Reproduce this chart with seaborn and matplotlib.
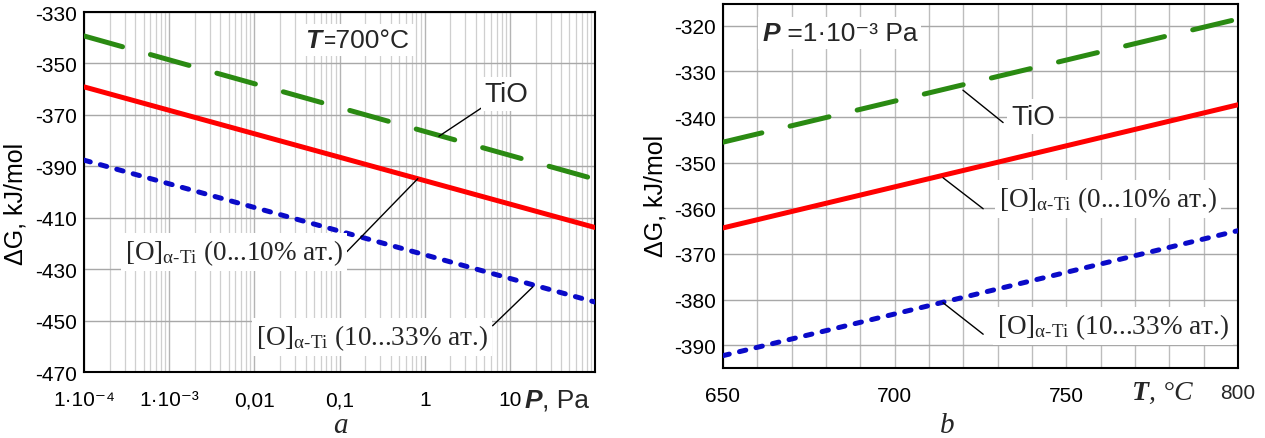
import numpy as np
import pandas as pd
import matplotlib
matplotlib.use("Agg")
import matplotlib.pyplot as plt
import seaborn as sns
from matplotlib.ticker import FixedLocator, LogLocator, MultipleLocator, NullFormatter

# -----------------------------
# data
# -----------------------------
# a) dG vs pressure at T = 700 C
P_pa = [1e-4, 100]
dG_TiO_P = [-339.3, -395.0]
dG_O1_P = [-359.1, -413.8]
dG_O2_P = [-387.6, -442.8]

# b) dG vs temperature at P = 1e-3 Pa
T_c = [650, 800]
dG_TiO_T = [-345.5, -318.5]
dG_O1_T = [-364.3, -337.3]
dG_O2_T = [-392.3, -364.9]

phases = ["TiO", "O1", "O2"]
p_ticks = [1e-4, 1e-3, 1e-2, 1e-1, 1, 10, 100]
p_tick_labels = ["1·10⁻⁴", "1·10⁻³", "0,01", "0,1", "1", "10", ""]
dG_ticks_a = [-470, -450, -430, -410, -390, -370, -350, -330]
t_ticks = [650, 700, 750, 800]
t_tick_labels = ["650", "700", "750", ""]

lab_O1 = "[O]$_{\\mathrm{α‐Ti}}$ (0...10% ат.)"
lab_O2 = "[O]$_{\\mathrm{α‐Ti}}$ (10...33% ат.)"

colors = {"TiO": "#2a8a12", "O1": "#ff0000", "O2": "#0a0ac8"}
dash_map = {"TiO": (8, 5.8), "O1": "", "O2": (1.3, 2.1)}

# -----------------------------
# style
# -----------------------------
sns.set_theme(style="white")
plt.rcParams["font.family"] = ["Liberation Sans", "DejaVu Sans"]
plt.rcParams["axes.unicode_minus"] = False
plt.rcParams["mathtext.fontset"] = "custom"
plt.rcParams["mathtext.rm"] = "Liberation Serif"
plt.rcParams["mathtext.it"] = "Liberation Serif:italic"
plt.rcParams["mathtext.bf"] = "Liberation Serif:bold"

SANS = ["Liberation Sans", "DejaVu Sans"]
SERIF = ["Liberation Serif", "DejaVu Serif"]
TICK_FS = 15
LAB_FS = 19.5
HEAD_FS = 19

fig = plt.figure(figsize=(12.65, 4.39), dpi=100)
ax1 = fig.add_axes([0.0664, 0.1503, 0.4040, 0.8200])
ax2 = fig.add_axes([0.5715, 0.1595, 0.4071, 0.8292])


def long_frame(x, tio, o1, o2, xname):
    return pd.DataFrame({
        xname: list(x) * 3,
        "dG": list(tio) + list(o1) + list(o2),
        "phase": [p for p in phases for _ in x],
    })


df_a = long_frame(P_pa, dG_TiO_P, dG_O1_P, dG_O2_P, "P")
df_b = long_frame(T_c, dG_TiO_T, dG_O1_T, dG_O2_T, "T")

ax1.set_xscale("log")
for ax, df, xname in [(ax1, df_a, "P"), (ax2, df_b, "T")]:
    sns.lineplot(data=df, x=xname, y="dG", hue="phase", style="phase",
                 palette=colors, dashes=dash_map, hue_order=phases,
                 style_order=phases, lw=3.6, dash_capstyle="round",
                 errorbar=None, legend=False, ax=ax, zorder=3)

# -----------------------------
# axes a
# -----------------------------
ax1.set_xlim(1e-4, 100)
ax1.set_ylim(-470, -330)
ax1.xaxis.set_major_locator(FixedLocator(p_ticks))
ax1.set_xticklabels(p_tick_labels)
ax1.xaxis.set_minor_locator(LogLocator(base=10, subs=np.arange(2, 10)))
ax1.xaxis.set_minor_formatter(NullFormatter())
ax1.yaxis.set_major_locator(FixedLocator(dG_ticks_a))
ax1.grid(True, which="major", axis="y", color="#a8a8a8", lw=1.0)
ax1.grid(True, which="major", axis="x", color="#b4b4b4", lw=1.0)
ax1.grid(True, which="minor", axis="x", color="#cfcfcf", lw=0.9)

# -----------------------------
# axes b
# -----------------------------
ax2.set_xlim(650, 800)
ax2.set_ylim(-395, -315.2)
ax2.xaxis.set_major_locator(FixedLocator(t_ticks))
ax2.set_xticklabels(t_tick_labels)
ax2.xaxis.set_minor_locator(MultipleLocator(10))
ax2.yaxis.set_major_locator(MultipleLocator(10))
ax2.grid(True, which="both", axis="x", color="#bdbdbd", lw=1.0)
ax2.grid(True, which="major", axis="y", color="#a8a8a8", lw=1.0)

for ax in (ax1, ax2):
    ax.set_axisbelow(True)
    ax.set_xlabel("")
    ax.set_ylabel("ΔG, kJ/mol", fontsize=18, family=SANS, color="black")
    ax.tick_params(which="both", length=0, labelsize=TICK_FS, colors="black")
    ax.tick_params(axis="x", pad=13)
    ax.tick_params(axis="y", pad=5)
    for s in ax.spines.values():
        s.set_visible(True)
        s.set_color("black")
        s.set_linewidth(1.5)
ax1.yaxis.set_label_coords(-0.11, 0.47)
ax2.yaxis.set_label_coords(-0.108, 0.475)

white = dict(boxstyle="square,pad=0.15", fc="white", ec="none")


def two_part(ax, x, y, first, rest, family, size, first_style, rest_style,
             transform=None, box=None):
    tr = transform if transform is not None else ax.transData
    t1 = ax.text(x, y, first, transform=tr, family=family, fontsize=size,
                 fontweight="bold", fontstyle=first_style, ha="left",
                 va="center", bbox=box, zorder=7)
    ax.annotate(rest, xy=(1, 0.5), xycoords=t1, ha="left", va="center",
                family=family, fontsize=size, fontstyle=rest_style,
                bbox=box, zorder=6, annotation_clip=False)


def leader(ax, start, end):
    ax.annotate("", xy=end, xytext=start,
                arrowprops=dict(arrowstyle="-", color="black", lw=1.0,
                                shrinkA=0, shrinkB=0), zorder=5)


# annotations, panel a
two_part(ax1, 0.039, -340.8, "T", "=700°C", SANS, HEAD_FS, "italic", "normal",
         box=white)
ax1.text(9.2, -362.0, "TiO", fontsize=20, family=SANS, ha="center",
         va="center", bbox=white, zorder=6)
leader(ax1, (5.1, -366.4), (1.47, -378.3))
ax1.text(0.0058, -423.4, lab_O1, fontsize=LAB_FS, family=SERIF, ha="center",
         va="center", bbox=white, zorder=6)
leader(ax1, (0.122, -423.2), (0.83, -394.8))
ax1.text(0.24, -456.3, lab_O2, fontsize=LAB_FS, family=SERIF, ha="center",
         va="center", bbox=white, zorder=6)
leader(ax1, (6.27, -452.0), (18.6, -436.9))
two_part(ax1, 0.862, -0.077, "P", ", Pa", SANS, HEAD_FS, "italic", "normal",
         transform=ax1.transAxes)

# annotations, panel b
two_part(ax2, 661.4, -321.5, "P", " =1·10⁻³ Pa", SANS, HEAD_FS, "italic",
         "normal", box=white)
ax2.text(740.3, -339.9, "TiO", fontsize=20, family=SANS, ha="center",
         va="center", bbox=white, zorder=6)
leader(ax2, (731.6, -341.2), (719.9, -334.1))
ax2.text(762.1, -358.0, lab_O1, fontsize=LAB_FS, family=SERIF, ha="center",
         va="center", bbox=white, zorder=6)
leader(ax2, (725.8, -360.1), (714.1, -353.3))
ax2.text(763.6, -385.8, lab_O2, fontsize=LAB_FS, family=SERIF, ha="center",
         va="center", bbox=white, zorder=6)
leader(ax2, (725.8, -387.6), (714.1, -380.7))
two_part(ax2, 0.795, -0.068, "T", ", °C", SERIF, 20, "italic", "italic",
         transform=ax2.transAxes)
ax2.text(1.0, -0.068, "800", transform=ax2.transAxes, fontsize=TICK_FS,
         family=SANS, ha="center", va="center")

fig.text(0.2688, 0.03, "a", family=SERIF, style="italic", fontsize=21,
         ha="center", va="center")
fig.text(0.749, 0.03, "b", family=SERIF, style="italic", fontsize=21,
         ha="center", va="center")

fig.savefig("out.png", dpi=100)
